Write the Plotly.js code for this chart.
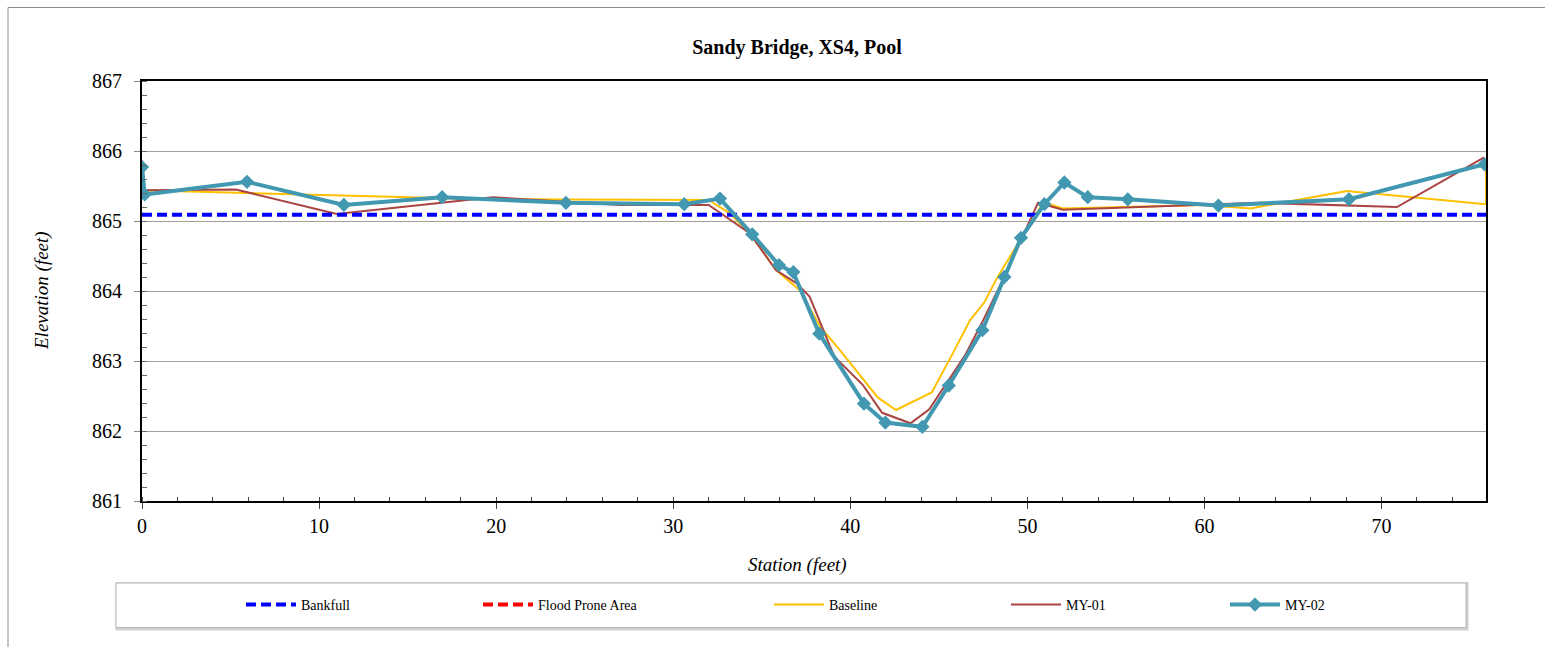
<!DOCTYPE html>
<html>
<head>
<meta charset="utf-8">
<script src="https://cdn.plot.ly/plotly-3.0.1.min.js"></script>
<style>
  html, body { margin: 0; padding: 0; background: #ffffff; overflow: hidden; }
  #chart { width: 1545px; height: 647px; }
</style>
</head>
<body>
<div id="chart"></div>
<script>
// ---- Data ----
const chartTitle = "Sandy Bridge, XS4, Pool";
const xTitle = "Station (feet)";
const yTitle = "Elevation (feet)";

const seriesNames = ["Bankfull", "Flood Prone Area", "Baseline", "MY-01", "MY-02"];

const stationBankfull = [0, 75.9];
const elevBankfull = [865.09, 865.09];

// Flood prone elevation is not drawn inside the plotted range (legend entry only)
const stationFloodProne = [0, 75.9];
const elevFloodProne = [null, null];

const stationBaseline = [0, 19.5, 32.0, 33.2, 34.4, 35.8, 37.15, 38.3, 39.4, 41.55, 42.58, 44.6, 45.73, 46.76, 47.6, 48.27, 50.9, 52.0, 60.0, 62.6, 68.05, 75.9, 75.9];
const elevBaseline = [865.44, 865.31, 865.30, 865.11, 864.80, 864.30, 864.01, 863.49, 863.16, 862.48, 862.30, 862.55, 863.08, 863.58, 863.85, 864.18, 865.27, 865.18, 865.23, 865.18, 865.43, 865.24, 865.80];

const stationMY01 = [0, 0.15, 5.3, 11.0, 19.8, 27.0, 32.0, 34.3, 35.8, 36.97, 37.7, 39.1, 40.7, 41.8, 43.4, 44.46, 46.48, 47.5, 48.6, 50.6, 52.0, 63.1, 70.87, 75.8];
const elevMY01 = [865.87, 865.44, 865.45, 865.10, 865.34, 865.23, 865.23, 864.83, 864.30, 864.11, 863.92, 863.06, 862.66, 862.26, 862.11, 862.31, 863.08, 863.58, 864.15, 865.26, 865.16, 865.26, 865.20, 865.91];

const stationMY02 = [0, 0.15, 5.93, 11.4, 16.95, 23.94, 30.62, 32.64, 34.46, 35.97, 36.78, 38.25, 40.77, 41.98, 44.07, 45.56, 47.46, 48.70, 49.64, 50.96, 52.09, 53.41, 55.67, 60.79, 68.16, 75.82];
const elevMY02 = [865.77, 865.38, 865.56, 865.23, 865.34, 865.26, 865.24, 865.32, 864.81, 864.37, 864.27, 863.39, 862.39, 862.12, 862.06, 862.65, 863.44, 864.20, 864.76, 865.24, 865.55, 865.34, 865.31, 865.22, 865.31, 865.81];

const xRange = [0, 75.9];
const yRange = [861, 867];
const xTickVals = [0, 10, 20, 30, 40, 50, 60, 70];
const yTickVals = [861, 862, 863, 864, 865, 866, 867];

// ---- Layout geometry (px) ----
const W = 1545, H = 647;
const M = {l: 142, r: 59, t: 81, b: 146};
const PW = W - M.l - M.r, PH = H - M.t - M.b;
const px2x = p => (p - M.l) / PW;
const px2y = p => (H - M.b - p) / PH;

const FONT = "Liberation Serif, Times New Roman, serif";

const traces = [
  {
    x: stationBaseline, y: elevBaseline, name: seriesNames[2], type: "scatter", mode: "lines",
    line: {color: "#FFC000", width: 2}, legend: "legend3"
  },
  {
    x: stationMY01, y: elevMY01, name: seriesNames[3], type: "scatter", mode: "lines",
    line: {color: "#A94442", width: 2}, legend: "legend4"
  },
  {
    x: stationBankfull, y: elevBankfull, name: seriesNames[0], type: "scatter", mode: "lines",
    line: {color: "#0000FF", width: 4, dash: "10px,5px"}, legend: "legend"
  },
  {
    x: stationFloodProne, y: elevFloodProne, name: seriesNames[1], type: "scatter", mode: "lines",
    line: {color: "#FF0000", width: 4, dash: "10px,5px"}, legend: "legend2"
  },
  {
    x: stationMY02, y: elevMY02, name: seriesNames[4], type: "scatter", mode: "lines+markers",
    line: {color: "#4198B0", width: 4},
    marker: {symbol: "diamond", size: 11, color: "#4198B0"},
    legend: "legend5"
  }
];

function leg(pxStart) {
  return {
    x: px2x(pxStart), xanchor: "left",
    y: px2y(605), yanchor: "middle",
    orientation: "h",
    bgcolor: "rgba(0,0,0,0)",
    borderwidth: 0,
    itemwidth: 50,
    font: {family: FONT, size: 14, color: "#000"}
  };
}

const layout = {
  width: W, height: H,
  margin: M,
  paper_bgcolor: "#ffffff",
  plot_bgcolor: "#ffffff",
  font: {family: FONT, color: "#000"},
  title: {
    text: "<b>" + chartTitle + "</b>",
    font: {family: FONT, size: 20, color: "#000"},
    x: 797 / W, xanchor: "center", xref: "container",
    y: 1 - 47 / H, yanchor: "middle", yref: "container"
  },
  xaxis: {
    range: xRange,
    tickvals: xTickVals,
    ticks: "outside", ticklen: 6, tickcolor: "#444", tickwidth: 1,
    tickfont: {family: FONT, size: 20, color: "#000"},
    showgrid: false, zeroline: false,
    showline: true, linecolor: "#000", linewidth: 2, mirror: true,
    minor: {dtick: 2, ticks: "inside", ticklen: 4, tickcolor: "#444", showgrid: false},
    fixedrange: true
  },
  yaxis: {
    range: yRange,
    tickvals: yTickVals,
    ticks: "outside", ticklen: 6, tickcolor: "#888", tickwidth: 1,
    ticklabelstandoff: 8,
    tickfont: {family: FONT, size: 20, color: "#000"},
    showgrid: true, gridcolor: "#a0a0a0", gridwidth: 1,
    zeroline: false,
    showline: true, linecolor: "#000", linewidth: 2, mirror: true,
    minor: {dtick: 0.2, ticks: "inside", ticklen: 5, tickcolor: "#666", showgrid: false},
    fixedrange: true
  },
  showlegend: true,
  legend: leg(241),
  legend2: leg(478),
  legend3: leg(769),
  legend4: leg(1006),
  legend5: leg(1225),
  annotations: [
    {
      text: "<i>" + xTitle + "</i>", xref: "paper", yref: "paper",
      x: px2x(797), y: px2y(565), xanchor: "center", yanchor: "middle",
      showarrow: false, font: {family: FONT, size: 19, color: "#000"}
    },
    {
      text: "<i>" + yTitle + "</i>", xref: "paper", yref: "paper",
      x: px2x(42), y: px2y(291), xanchor: "center", yanchor: "middle",
      textangle: -90, showarrow: false, font: {family: FONT, size: 19, color: "#000"}
    }
  ],
  shapes: [
    {
      type: "rect", xref: "paper", yref: "paper", layer: "below",
      x0: px2x(8), x1: px2x(1620), y0: px2y(720), y1: px2y(7.5),
      line: {color: "#8c8c8c", width: 1}, fillcolor: "rgba(0,0,0,0)"
    },
    {
      type: "rect", xref: "paper", yref: "paper", layer: "below",
      x0: px2x(117), x1: px2x(1467), y0: px2y(629), y1: px2y(583.5),
      line: {color: "#d0d0d0", width: 3}, fillcolor: "rgba(0,0,0,0)"
    },
    {
      type: "rect", xref: "paper", yref: "paper", layer: "below",
      x0: px2x(116), x1: px2x(1466), y0: px2y(627.5), y1: px2y(583),
      line: {color: "#b8b8b8", width: 1}, fillcolor: "#ffffff"
    }
  ]
};

Plotly.newPlot("chart", traces, layout, {staticPlot: true, displayModeBar: false});
</script>
</body>
</html>
